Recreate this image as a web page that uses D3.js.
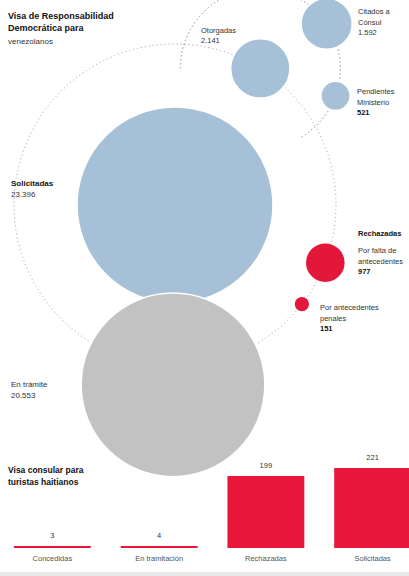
<!DOCTYPE html>
<html>
<head>
<meta charset="utf-8">
<script src="https://cdn.jsdelivr.net/npm/d3@7"></script>
<style>
  body { margin:0; background:#fff; }
  svg { display:block; font-family:"Liberation Sans Narrow","Liberation Sans",Arial,sans-serif; }
  .lbl { font-size:8px; fill:#333; }
  .b { font-weight:bold; fill:#111; }
</style>
</head>
<body>
<div class="svgContainer"></div>
<script>
  // visa de responsabilidad democratica
  var bubbleNames  = ["Solicitadas","En trámite","Otorgadas","Citados","Pendientes","Falta docs","Antecedentes"];
  var bubbleValues = [23396, 20553, 2141, 1592, 521, 977, 151];
  var bubbleLabels = [
    ["Solicitadas","23.396"],
    ["En trámite","20.553"],
    ["Otorgadas","2.141"],
    ["Citados a","Cónsul","1.592"],
    ["Pendientes","Ministerio","521"],
    ["Por falta de","antecedentes","977"],
    ["Por antecedentes","penales","151"]
  ];
  var bubbleColors = ["#a6c1d7","#c2c2c2","#a6c1d7","#a6c1d7","#a6c1d7","#e3173a","#e3173a"];

  // visa consular turistas haitianos
  var barCats   = ["Concedidas","En tramitación","Rechazadas","Solicitadas"];
  var barValues = [3, 4, 199, 221];

  var W = 409, H = 576;
  var svg = d3.select(".svgContainer").append("svg").attr("width",W).attr("height",H);

  var r = d3.scaleSqrt().domain([0, d3.max(bubbleValues)]).range([0, 98]);

  // layout: big bubble in the middle, others sit on dotted orbits
  var main = {x:175, y:205};
  var orbit1 = 161, orbit2 = 80;
  function onOrbit(c, rad, deg){
    var a = deg*Math.PI/180;
    return {x: c.x + rad*Math.cos(a), y: c.y + rad*Math.sin(a)};
  }
  var pos = [];
  pos[0] = main;
  pos[1] = {x:main.x-2, y:main.y + r(bubbleValues[0]) + r(bubbleValues[1]) - 10};
  pos[2] = onOrbit(main, orbit1, -58);
  pos[3] = onOrbit(pos[2], orbit2, -34);
  pos[4] = onOrbit(pos[2], orbit2, 20);
  pos[5] = onOrbit(main, orbit1, 21);
  pos[6] = onOrbit(main, orbit1, 38);

  // dotted orbits
  svg.append("circle").attr("cx",main.x).attr("cy",main.y).attr("r",orbit1)
    .attr("fill","none").attr("stroke","#9a9a9a").attr("stroke-width",1)
    .attr("stroke-dasharray","1,3");
  // second orbit only the outer part (left, over the top, down the right)
  svg.append("path")
    .attr("transform","translate(" + pos[2].x + "," + pos[2].y + ")")
    .attr("d", d3.arc()({innerRadius:orbit2, outerRadius:orbit2,
                         startAngle:-Math.PI/2, endAngle:Math.PI*5/6}))
    .attr("fill","none").attr("stroke","#9a9a9a").attr("stroke-width",1)
    .attr("stroke-dasharray","1,3");

  var order = [0,2,3,4,5,6,1];
  svg.selectAll("circle.bub").data(order).enter().append("circle")
    .attr("class","bub")
    .attr("cx",function(i){ return pos[i].x; })
    .attr("cy",function(i){ return pos[i].y; })
    .attr("r",function(i){ return r(bubbleValues[i]); })
    .attr("fill",function(i){ return bubbleColors[i]; })
    .attr("stroke","#fff").attr("stroke-width",1.5);

  // text helper
  function block(x, y, lines, boldIdx, lh){
    var t = svg.append("text").attr("class","lbl").attr("x",x).attr("y",y);
    lines.forEach(function(s,i){
      t.append("tspan").attr("x",x).attr("dy", i===0 ? 0 : (lh||11))
        .attr("class", boldIdx.indexOf(i) >= 0 ? "b" : null).text(s);
    });
    return t;
  }

  block(8, 19, ["Visa de Responsabilidad","Democrática para"], [0,1], 12).style("font-size","9px");
  block(8, 44, ["venezolanos"], []).style("font-size","8px");

  block(11, 186, bubbleLabels[0], [0], 11);
  block(11, 387, bubbleLabels[1], [], 11);
  block(201, 33, bubbleLabels[2], [], 10).style("font-size","7.5px");
  block(358, 14, bubbleLabels[3], [], 10.5).style("font-size","7.5px");
  block(357, 94, bubbleLabels[4], [2], 10.5).style("font-size","7.5px");
  block(358, 236, ["Rechazadas"], [0]).style("font-size","7.5px");
  block(358, 253, bubbleLabels[5], [2], 10.5).style("font-size","7.5px");
  block(320, 310, bubbleLabels[6], [2], 10.5).style("font-size","7.5px");

  // bars
  block(8, 473, ["Visa consular para","turistas haitianos"], [0,1], 12).style("font-size","8.5px");

  var x = d3.scaleBand().domain(barCats).range([-1, 426]).paddingInner(0.28).paddingOuter(0.14);
  var y = d3.scaleLinear().domain([0, d3.max(barValues)]).range([548, 468]);

  svg.selectAll("rect.bar").data(barValues).enter().append("rect")
    .attr("class","bar")
    .attr("x",function(d,i){ return x(barCats[i]); })
    .attr("width", x.bandwidth())
    .attr("y",function(d){ return Math.min(y(d), 548 - 2); })
    .attr("height",function(d){ return Math.max(548 - y(d), 2); })
    .attr("fill","#e8173a");

  svg.selectAll("text.val").data(barValues).enter().append("text")
    .attr("class","lbl val")
    .attr("x",function(d,i){ return x(barCats[i]) + x.bandwidth()/2; })
    .attr("y",function(d){ return Math.min(y(d), 546) - 8; })
    .attr("text-anchor","middle").style("font-size","7.5px")
    .text(function(d){ return d; });

  svg.selectAll("text.cat").data(barCats).enter().append("text")
    .attr("class","lbl cat")
    .attr("x",function(d){ return x(d) + x.bandwidth()/2; })
    .attr("y",561)
    .attr("text-anchor","middle").style("font-size","7.5px").style("fill","#555")
    .text(function(d){ return d; });

  svg.append("rect").attr("x",0).attr("y",572).attr("width",W).attr("height",4).attr("fill","#e8e8e8");
</script>
</body>
</html>
